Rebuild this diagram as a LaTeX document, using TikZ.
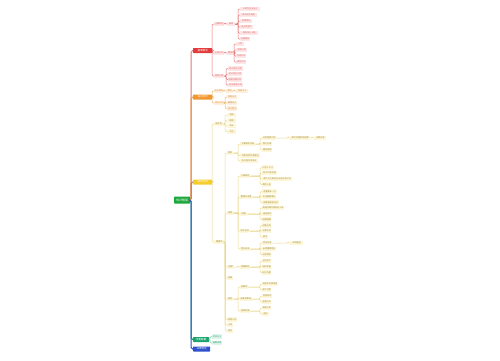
\documentclass[tikz,border=0pt]{standalone}
\usepackage{fontspec}
\newfontfamily\cjk{Noto Sans CJK SC}
\usetikzlibrary{calc}
\definecolor{rootg}{HTML}{1DA83C}
\definecolor{cred}{HTML}{E23B3B}
\definecolor{credl}{HTML}{FCE6E6}
\definecolor{credt}{HTML}{E06060}
\definecolor{credc}{HTML}{E87575}
\definecolor{corg}{HTML}{F29630}
\definecolor{corgl}{HTML}{FEF0DD}
\definecolor{corgt}{HTML}{D08A40}
\definecolor{corgc}{HTML}{F2B060}
\definecolor{cyel}{HTML}{F4CD2A}
\definecolor{cyell}{HTML}{FDF6D8}
\definecolor{cyelt}{HTML}{A08C40}
\definecolor{cyelc}{HTML}{EAD88C}
\definecolor{cteal}{HTML}{1BA46C}
\definecolor{ctealt}{HTML}{E2F3EB}
\definecolor{ctealc}{HTML}{7CCBA6}
\definecolor{cblue}{HTML}{2D50CC}
\definecolor{spine}{HTML}{C07840}
\tikzset{
  lvlone/.style={fill=#1, text=white, font=\cjk\fontsize{2.6}{3}\selectfont, minimum height=5pt, inner sep=0.4pt, rounded corners=0.5pt},
  rsub/.style={fill=credl, text=credt, font=\cjk\fontsize{2.1}{2.5}\selectfont, minimum height=4.2pt, inner sep=0.4pt},
  osub/.style={fill=corgl, text=corgt, font=\cjk\fontsize{2.1}{2.5}\selectfont, minimum height=4.2pt, inner sep=0.4pt},
  ysub/.style={fill=cyell, text=cyelt, font=\cjk\fontsize{2.1}{2.5}\selectfont, minimum height=4.2pt, inner sep=0.4pt},
  tsub/.style={fill=ctealt, text=cteal, font=\cjk\fontsize{2.1}{2.5}\selectfont, minimum height=4.2pt, inner sep=0.4pt},
  lnk/.style={draw=#1, line width=0.5pt, rounded corners=1pt},
  spn/.style={draw=#1, line width=1pt, rounded corners=1.5pt},
}
\newcommand\N[6]{\node[#1,anchor=west,minimum width=#5pt] (#2) at (#3,#4) {#6};}
\newcommand\C[3]{\draw[#1] let \p1=(#2.east), \p2=(#3.west) in (\p1) -- (\x2-1.8pt,\y1) -- (\x2-1.8pt,\y2) -- (\p2);}
\begin{document}
\begin{tikzpicture}[x=1pt,y=-1pt]
\useasboundingbox[fill=white] (0,0) rectangle (500,360);
% root and level one
\node[lvlone=rootg, anchor=west, minimum width=16pt, minimum height=7pt, font=\cjk\fontsize{2.9}{3.4}\selectfont] (root) at (174,200) {知识框架};
\N{lvlone=cred}{Lr}{193}{50.5}{19}{基本概念}
\N{lvlone=corg}{Lo}{193}{97}{19}{设立条件}
\N{lvlone=cyel}{Ly}{193}{182}{19}{组织机构}
\N{lvlone=cteal}{Lt}{193}{339.5}{16}{变更解散}
\N{lvlone=cblue}{Lb}{193}{349}{17}{法律责任}
\C{spn=credc}{root}{Lr}
\C{spn=corg}{root}{Lo}
\C{spn=spine}{root}{Ly}
\C{spn=cteal}{root}{Lt}
\C{spn=cblue}{root}{Lb}
% red branch
\N{rsub}{rA}{214}{24}{10}{主要特征}
\N{rsub}{rAa}{227}{24}{8}{具体}
\N{rsub}{rA1}{240}{9}{20}{公司为企业法人}
\N{rsub}{rA2}{240}{15}{17}{依法设立组织}
\N{rsub}{rA3}{240}{21}{12}{有限责任}
\N{rsub}{rA4}{240}{27}{13}{独立的财产}
\N{rsub}{rA5}{240}{33}{18}{具有法人人格}
\N{rsub}{rA6}{240}{39}{10}{社团组织}
\N{rsub}{rB}{214}{53}{10}{分类方式}
\N{rsub}{rBa}{227}{53}{8}{按信用}
\N{rsub}{rB1}{236}{44}{8}{人合}
\N{rsub}{rB2}{236}{50}{11}{资合公司}
\N{rsub}{rB3}{236}{56}{10}{中间公司}
\N{rsub}{rB4}{236}{62}{10}{混合公司}
\N{rsub}{rC}{214}{76}{10}{其他分类}
\N{rsub}{rC1}{228}{68.5}{15}{母公司子公司}
\N{rsub}{rC2}{228}{74}{14}{总公司分公司}
\N{rsub}{rC3}{228}{79.5}{13}{本国外国公司}
\N{rsub}{rC4}{228}{85}{15}{封闭开放公司}
\foreach \c in {rA,rB,rC} {\C{lnk=credc}{Lr}{\c}}
\C{lnk=credc}{rA}{rAa}
\foreach \c in {rA1,rA2,rA3,rA4,rA5,rA6} {\C{lnk=credc}{rAa}{\c}}
\C{lnk=credc}{rB}{rBa}
\foreach \c in {rB1,rB2,rB3,rB4} {\C{lnk=credc}{rBa}{\c}}
\foreach \c in {rC1,rC2,rC3,rC4} {\C{lnk=credc}{rC}{\c}}
% orange branch
\N{osub}{oA}{214}{91}{9}{设立原则}
\N{osub}{oAa}{226}{91}{7}{准则}
\N{osub}{oAb}{236}{91}{12}{核准主义}
\N{osub}{oB}{214}{103}{10}{设立方式}
\N{osub}{oB1}{227}{97}{10}{发起设立}
\N{osub}{oB2}{227}{103}{10}{募集设立}
\N{osub}{oB3}{227}{108.5}{10}{设立登记}
\C{lnk=corgc}{Lo}{oA}
\C{lnk=corgc}{Lo}{oB}
\C{lnk=corgc}{oA}{oAa}
\C{lnk=corgc}{oAa}{oAb}
\foreach \c in {oB1,oB2,oB3} {\C{lnk=corgc}{oB}{\c}}
% yellow branch
\N{ysub}{yA}{214}{124}{9}{股东会}
\N{ysub}{yA1}{227}{115}{9}{组成}
\N{ysub}{yA2}{227}{120.5}{9}{职权}
\N{ysub}{yA3}{227}{126}{9}{会议}
\N{ysub}{yA4}{227}{131.5}{9}{决议}
\N{ysub}{yB}{214}{242}{10}{董事会}
\C{lnk=cyelc}{Ly}{yA}
\C{lnk=cyelc}{Ly}{yB}
\foreach \c in {yA1,yA2,yA3,yA4} {\C{lnk=cyelc}{yA}{\c}}
\N{ysub}{g1}{227}{153}{6}{职权}
\N{ysub}{g2}{227}{213}{6}{组成}
\N{ysub}{g3}{227}{267}{7}{经理}
\N{ysub}{g4}{227}{278}{6}{监事}
\N{ysub}{g5}{227}{299}{6}{其他}
\N{ysub}{g6}{227}{319.5}{10}{高管人员}
\N{ysub}{g7}{227}{325}{6}{义务}
\N{ysub}{g8}{227}{331}{6}{责任}
\foreach \c in {g1,g2,g3,g4,g5,g6,g7,g8} {\C{lnk=cyelc}{yB}{\c}}
% g1
\N{ysub}{g1a}{240}{144}{15}{主要职权内容}
\N{ysub}{g1b}{240}{155.5}{20}{对股东会负责报告}
\N{ysub}{g1c}{240}{161}{18}{执行股东会决议}
\N{ysub}{g1a1}{262}{138}{14}{决定经营计划}
\N{ysub}{g1a2}{262}{144}{10}{制订方案}
\N{ysub}{g1a3}{262}{150}{10}{聘任经理}
\N{ysub}{g1a1a}{290}{138}{20}{制订年度财务预算}
\N{ysub}{g1a1b}{314}{138}{12}{决算方案}
\foreach \c in {g1a,g1b,g1c} {\C{lnk=cyelc}{g1}{\c}}
\foreach \c in {g1a1,g1a2,g1a3} {\C{lnk=cyelc}{g1a}{\c}}
\C{lnk=cyelc}{g1a1}{g1a1a}
\C{lnk=cyelc}{g1a1a}{g1a1b}
% g2
\N{ysub}{g2a}{240}{176}{10}{人数规定}
\N{ysub}{g2b}{240}{197}{12}{董事长设置}
\N{ysub}{g2c}{240}{214}{7}{任期}
\N{ysub}{g2d}{240}{231}{9}{会议召开}
\N{ysub}{g2e}{240}{249}{10}{会议记录}
\foreach \c in {g2a,g2b,g2c,g2d,g2e} {\C{lnk=cyelc}{g2}{\c}}
\N{ysub}{g2a1}{262}{167.5}{11}{三至十三人}
\N{ysub}{g2a2}{262}{173}{15}{职工代表比例}
\N{ysub}{g2a3}{262}{179}{30}{两个以上国有企业设立的公司}
\N{ysub}{g2a4}{262}{184.5}{9}{其他人员}
\foreach \c in {g2a1,g2a2,g2a3,g2a4} {\C{lnk=cyelc}{g2a}{\c}}
\N{ysub}{g2b1}{262}{191.5}{15}{设董事长一人}
\N{ysub}{g2b2}{262}{197}{14}{可设副董事长}
\N{ysub}{g2b3}{262}{202.5}{17}{由章程规定办法}
\foreach \c in {g2b1,g2b2,g2b3} {\C{lnk=cyelc}{g2b}{\c}}
\N{ysub}{g2c1}{262}{208}{22}{每届任期不得超过三年}
\N{ysub}{g2c2}{262}{214}{10}{连选连任}
\N{ysub}{g2c3}{262}{219.5}{9}{任期届满}
\foreach \c in {g2c1,g2c2,g2c3} {\C{lnk=cyelc}{g2c}{\c}}
\N{ysub}{g2d1}{262}{225.5}{9}{召集主持}
\N{ysub}{g2d2}{262}{231}{9}{议事方式}
\N{ysub}{g2d3}{262}{237}{6}{表决}
\foreach \c in {g2d1,g2d2,g2d3} {\C{lnk=cyelc}{g2d}{\c}}
\N{ysub}{g2e1}{262}{243}{10}{会议记录}
\N{ysub}{g2e2}{262}{249}{14}{出席董事签名}
\N{ysub}{g2e3}{262}{254.5}{9}{记录保存}
\N{ysub}{g2e1a}{290}{243}{13}{存档备查}
\foreach \c in {g2e1,g2e2,g2e3} {\C{lnk=cyelc}{g2e}{\c}}
\C{lnk=cyelc}{g2e1}{g2e1a}
% g3
\N{ysub}{g3a}{240}{267}{10}{经理职权}
\C{lnk=cyelc}{g3}{g3a}
\N{ysub}{g3a1}{262}{261}{9}{主持生产}
\N{ysub}{g3a2}{262}{267}{9}{组织实施}
\N{ysub}{g3a3}{262}{272.5}{9}{拟订方案}
\foreach \c in {g3a1,g3a2,g3a3} {\C{lnk=cyelc}{g3a}{\c}}
% g5
\N{ysub}{g5a}{240}{287}{8}{监事会}
\N{ysub}{g5b}{240}{299}{11}{监事会职权}
\N{ysub}{g5c}{240}{311}{10}{监事任期}
\foreach \c in {g5a,g5b,g5c} {\C{lnk=cyelc}{g5}{\c}}
\N{ysub}{g5a1}{262}{284}{15}{由股东代表组成}
\N{ysub}{g5a2}{262}{290}{9}{职工代表}
\N{ysub}{g5b1}{262}{296}{10}{检查财务}
\N{ysub}{g5b2}{262}{302}{9}{监督行为}
\N{ysub}{g5c1}{262}{308}{9}{每届三年}
\N{ysub}{g5c2}{262}{314}{7}{连任}
\foreach \c in {g5a1,g5a2} {\C{lnk=cyelc}{g5a}{\c}}
\foreach \c in {g5b1,g5b2} {\C{lnk=cyelc}{g5b}{\c}}
\foreach \c in {g5c1,g5c2} {\C{lnk=cyelc}{g5c}{\c}}
% teal branch
\N{tsub}{t1}{212}{336.5}{10}{合并分立}
\N{tsub}{t2}{212}{343}{10}{解散清算}
\C{lnk=ctealc}{Lt}{t1}
\C{lnk=ctealc}{Lt}{t2}
\end{tikzpicture}
\end{document}
